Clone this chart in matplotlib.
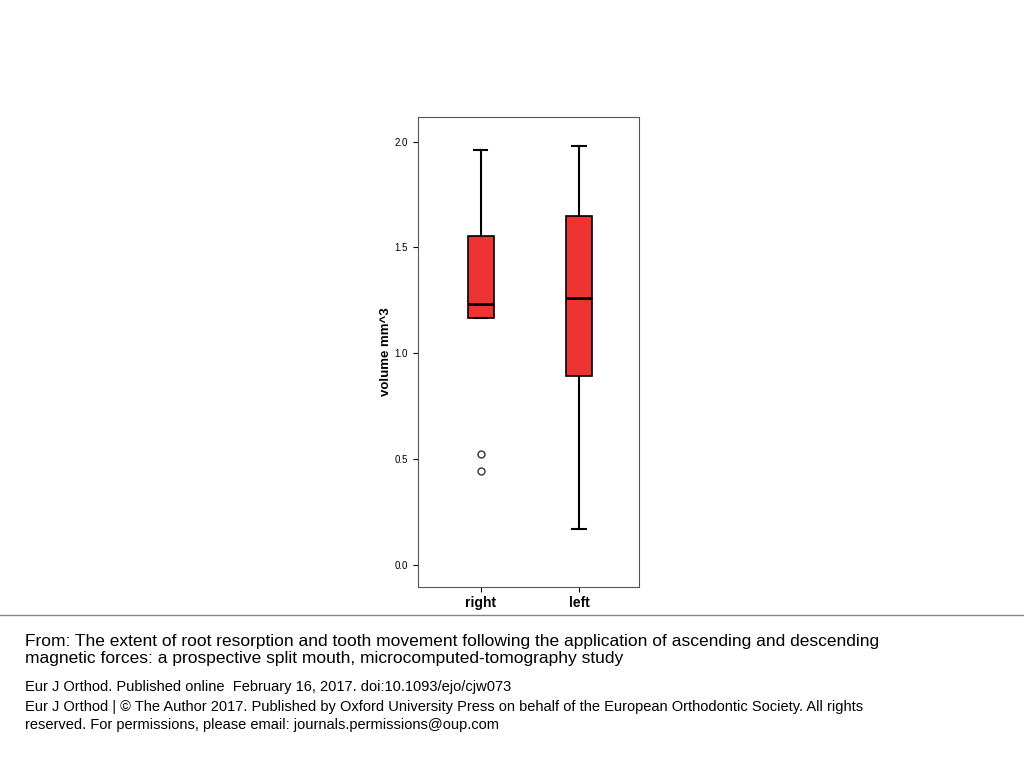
import matplotlib
matplotlib.use("Agg")
import matplotlib.pyplot as plt
from matplotlib.lines import Line2D

plt.rcParams["font.family"] = "Liberation Sans"

groups = ["right", "left"]
whislo = [1.168, 0.17]
q1 = [1.168, 0.894]
med = [1.234, 1.262]
q3 = [1.556, 1.650]
whishi = [1.962, 1.981]
fliers = [[0.525, 0.444], []]

fig = plt.figure(figsize=(10.24, 7.68), dpi=100)
ax = fig.add_axes([0.408, 0.236, 0.216, 0.612])

stats = [dict(label=g, whislo=a, q1=b, med=c, q3=d, whishi=e, fliers=f)
         for g, a, b, c, d, e, f in zip(groups, whislo, q1, med, q3, whishi, fliers)]
ax.bxp(stats, positions=[0.285, 0.729], widths=0.115, patch_artist=True,
       boxprops=dict(facecolor="#ee3333", edgecolor="black", lw=1.2),
       medianprops=dict(color="black", lw=2),
       whiskerprops=dict(color="black", lw=1.5),
       capprops=dict(color="black", lw=1.5), capwidths=0.06,
       flierprops=dict(marker="o", mfc="none", mec="#333333", ms=5))
ax.set_xlim(0, 1)
ax.set_ylim(-0.104, 2.118)
ax.set_yticks([0.0, 0.5, 1.0, 1.5, 2.0])
ax.set_yticklabels(["0.0", "0.5", "1.0", "1.5", "2.0"], fontsize=7)
ax.set_xticklabels(groups, fontsize=10, fontweight="bold")
ax.set_ylabel("volume mm^3", fontsize=9.5, fontweight="bold", labelpad=2)
for s in ax.spines.values():
    s.set_color("#555555")

fig.add_artist(Line2D([0, 1], [1 - 615 / 768] * 2, color="#888888", lw=1))
fig.text(0.024, 1 - 650 / 768, "From: The extent of root resorption and tooth movement following the application of ascending and descending\nmagnetic forces: a prospective split mouth, microcomputed-tomography study",
         fontsize=12.5, va="center", linespacing=1.15)
fig.text(0.024, 1 - 687 / 768, "Eur J Orthod. Published online  February 16, 2017. doi:10.1093/ejo/cjw073",
         fontsize=10.5, va="center")
fig.text(0.024, 1 - 716 / 768, "Eur J Orthod | © The Author 2017. Published by Oxford University Press on behalf of the European Orthodontic Society. All rights\nreserved. For permissions, please email: journals.permissions@oup.com",
         fontsize=10.5, va="center", linespacing=1.3)

fig.savefig("out.png", dpi=100)
